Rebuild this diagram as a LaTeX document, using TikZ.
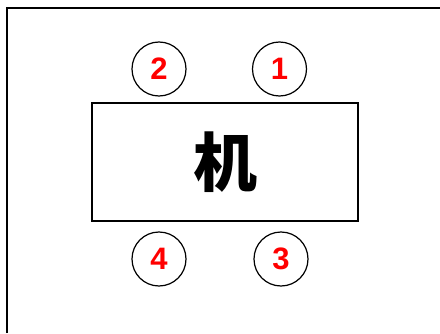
\documentclass[tikz,border=0pt]{standalone}
\usepackage{fontspec}
\setmainfont{Liberation Sans}
\newfontfamily\cjk{Noto Sans CJK JP}
\usepackage{xcolor}

\begin{document}
\begin{tikzpicture}[x=1pt,y=1pt,%
% common options for the desk:
desk/.style = {draw, line width=1.6pt, rectangle, align=center,
            minimum width=266pt, minimum height=118pt, inner sep=0},
% common options for the seats:
seat/.style = {circle, draw, line width=1.2pt, minimum size=54pt, inner sep=0,
            text=red, font=\fontsize{31}{31}\selectfont\bfseries}]
\useasboundingbox (0,0) rectangle (440,333);
\draw[line width=2pt] (7,0) -- (7,325) -- (440,325);
\node[desk] (D) at (225,171) {\cjk\bfseries\fontsize{64}{64}\selectfont 机};
\node[seat] (S1) at (279.5,264) {1};
\node[seat] (S2) at (159,264) {2};
\node[seat] (S3) at (281,74) {3};
\node[seat] (S4) at (159,74) {4};
\end{tikzpicture}
\end{document}
